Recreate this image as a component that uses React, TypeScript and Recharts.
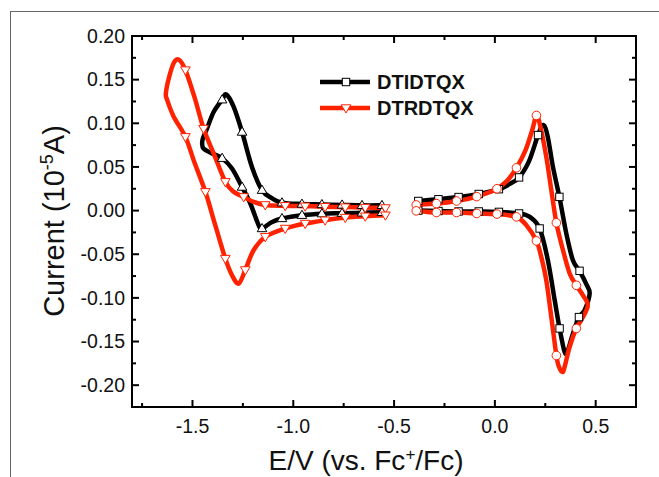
import { ComposedChart, Line, Scatter, XAxis, YAxis, ReferenceArea } from 'recharts'

// cyclic voltammograms, E (V vs Fc+/Fc) against current (10^-5 A)
const dtidtqxReduction: [number, number][] = [
  [-0.56, 0.006], [-0.659, 0.006], [-0.758, 0.0065], [-0.858, 0.007], [-0.957, 0.0075], [-1.056, 0.009],
  [-1.105, 0.014], [-1.155, 0.0234], [-1.205, 0.05], [-1.254, 0.09], [-1.296, 0.119], [-1.332, 0.133],
  [-1.353, 0.127], [-1.395, 0.113], [-1.428, 0.094], [-1.448, 0.083], [-1.452, 0.077], [-1.445, 0.071],
  [-1.403, 0.0655], [-1.353, 0.06], [-1.304, 0.0483], [-1.254, 0.027], [-1.213, 0.0081], [-1.172, -0.0167],
  [-1.155, -0.0205], [-1.105, -0.013], [-1.056, -0.009], [-0.957, -0.0053], [-0.858, -0.0035],
  [-0.758, -0.003], [-0.659, -0.0025], [-0.56, -0.002],
]
const dtidtqxReductionMarks: [number, number][] = [
  [-0.56, 0.006], [-0.659, 0.006], [-0.758, 0.0065], [-0.858, 0.007], [-0.957, 0.0075], [-1.056, 0.009],
  [-1.155, 0.0234], [-1.254, 0.09], [-1.353, 0.127], [-1.353, 0.06], [-1.254, 0.027], [-1.155, -0.0205],
  [-1.056, -0.009], [-0.957, -0.0053], [-0.858, -0.0035], [-0.758, -0.003], [-0.659, -0.0025], [-0.56, -0.002],
]
const dtidtqxOxidation: [number, number][] = [
  [-0.39, 0.011], [-0.28, 0.013], [-0.18, 0.0155], [-0.08, 0.019], [0.02, 0.0245], [0.07, 0.03],
  [0.12, 0.038], [0.17, 0.057], [0.214, 0.0865], [0.24, 0.098], [0.262, 0.085], [0.288, 0.05],
  [0.32, 0.0157], [0.354, -0.026], [0.387, -0.057], [0.42, -0.069], [0.453, -0.084], [0.47, -0.095],
  [0.445, -0.114], [0.417, -0.122], [0.387, -0.141], [0.362, -0.16], [0.346, -0.162], [0.321, -0.135],
  [0.297, -0.103], [0.263, -0.057], [0.222, -0.0205], [0.173, -0.0072], [0.12, -0.0033], [0.02, -0.0015],
  [-0.08, -0.001], [-0.18, -0.001], [-0.28, -0.0005], [-0.39, 0],
]
const dtidtqxOxidationMarks: [number, number][] = [
  [-0.38, 0.011], [-0.28, 0.013], [-0.18, 0.0155], [-0.08, 0.019], [0.02, 0.0245], [0.12, 0.038],
  [0.214, 0.0865], [0.32, 0.0157], [0.42, -0.069], [0.417, -0.122], [0.321, -0.135], [0.222, -0.0205],
  [0.12, -0.0033], [0.02, -0.0015], [-0.08, -0.001], [-0.18, -0.001], [-0.28, -0.0005], [-0.38, 0],
]
const dtrdtqxReduction: [number, number][] = [
  [-0.543, 0.003], [-0.643, 0.0035], [-0.742, 0.004], [-0.842, 0.0045], [-0.941, 0.005], [-1.04, 0.0055],
  [-1.139, 0.0065], [-1.197, 0.01], [-1.246, 0.0157], [-1.296, 0.0215], [-1.337, 0.033], [-1.395, 0.0655],
  [-1.445, 0.094], [-1.49, 0.13], [-1.535, 0.161], [-1.568, 0.173], [-1.593, 0.169], [-1.618, 0.151],
  [-1.632, 0.134], [-1.626, 0.127], [-1.593, 0.1075], [-1.535, 0.0845], [-1.49, 0.055], [-1.436, 0.0215],
  [-1.387, -0.0167], [-1.337, -0.055], [-1.304, -0.074], [-1.271, -0.0836], [-1.238, -0.068],
  [-1.197, -0.0454], [-1.139, -0.03], [-1.04, -0.0205], [-0.941, -0.0148], [-0.842, -0.011],
  [-0.742, -0.008], [-0.643, -0.0065], [-0.543, -0.0053],
]
const dtrdtqxReductionMarks: [number, number][] = [
  [-0.543, 0.003], [-0.643, 0.0035], [-0.742, 0.004], [-0.842, 0.0045], [-0.941, 0.005], [-1.04, 0.0055],
  [-1.139, 0.0065], [-1.246, 0.0157], [-1.337, 0.033], [-1.445, 0.094], [-1.535, 0.161],
  [-1.535, 0.0845], [-1.436, 0.0215], [-1.337, -0.055], [-1.238, -0.068], [-1.139, -0.03], [-1.04, -0.0205],
  [-0.941, -0.0148], [-0.842, -0.011], [-0.742, -0.008], [-0.643, -0.0065], [-0.543, -0.0053],
]
const dtrdtqxOxidation: [number, number][] = [
  [-0.39, 0.0065], [-0.29, 0.008], [-0.19, 0.011], [-0.09, 0.016], [0.01, 0.025], [0.06, 0.034],
  [0.107, 0.049], [0.15, 0.068], [0.185, 0.092], [0.206, 0.109], [0.222, 0.1], [0.255, 0.0616],
  [0.28, 0.0234], [0.305, -0.014], [0.338, -0.0454], [0.371, -0.072], [0.404, -0.0856], [0.437, -0.097],
  [0.461, -0.1085], [0.437, -0.122], [0.404, -0.135], [0.371, -0.156], [0.346, -0.179], [0.335, -0.185],
  [0.318, -0.179], [0.305, -0.166], [0.28, -0.122], [0.255, -0.08], [0.23, -0.053], [0.206, -0.0347],
  [0.156, -0.0167], [0.107, -0.0072], [0.01, -0.004], [-0.09, -0.0033], [-0.19, -0.0022],
  [-0.29, -0.0022], [-0.39, -0.0003],
]
const dtrdtqxOxidationMarks: [number, number][] = [
  [-0.39, 0.0065], [-0.29, 0.008], [-0.19, 0.011], [-0.09, 0.016], [0.01, 0.025], [0.107, 0.049],
  [0.206, 0.109], [0.305, -0.014], [0.404, -0.0856], [0.404, -0.135], [0.305, -0.166], [0.206, -0.0347],
  [0.107, -0.0072], [0.01, -0.004], [-0.09, -0.0033], [-0.19, -0.0022], [-0.29, -0.0022], [-0.39, -0.0003],
]

const xTicks = [-1.5, -1.0, -0.5, 0.0, 0.5]
const xMinorTicks = [-1.75, -1.25, -0.75, -0.25, 0.25]
const yTicks = [0.2, 0.15, 0.1, 0.05, 0.0, -0.05, -0.1, -0.15, -0.2]
const yMinorTicks = [0.175, 0.125, 0.075, 0.025, -0.025, -0.075, -0.125, -0.175]

const BLACK = '#000000'
const RED = '#ff2200'
const FONT = '"Liberation Sans", Arial, sans-serif'
const PLOT = { left: 132, top: 36, right: 636, bottom: 407 }

const pts = (a: [number, number][]) => a.map(([x, y]) => ({ x, y }))

// catmull-rom through the points, so the loops come out rounded like Origin's spline
function smooth(context: any) {
  let p: number[][] = []
  return {
    areaStart() {},
    areaEnd() {},
    lineStart() { p = [] },
    point(x: number, y: number) { p.push([x, y]) },
    lineEnd() {
      if (!p.length) return
      context.moveTo(p[0][0], p[0][1])
      const k = 1 / 6
      for (let i = 0; i < p.length - 1; i++) {
        const a = p[Math.max(i - 1, 0)], b = p[i], c = p[i + 1], d = p[Math.min(i + 2, p.length - 1)]
        context.bezierCurveTo(
          b[0] + (c[0] - a[0]) * k, b[1] + (c[1] - a[1]) * k,
          c[0] - (d[0] - b[0]) * k, c[1] - (d[1] - b[1]) * k,
          c[0], c[1],
        )
      }
    },
  }
}

function XTick({ x, payload }: any) {
  const major = xTicks.includes(payload.value)
  const len = major ? 7 : 4
  return (
    <g>
      <line x1={x} x2={x} y1={PLOT.bottom} y2={PLOT.bottom - len} stroke={BLACK} strokeWidth={2} />
      <line x1={x} x2={x} y1={PLOT.top} y2={PLOT.top + len} stroke={BLACK} strokeWidth={2} />
      {major && (
        <text x={x} y={PLOT.bottom + 19} dy="0.35em" textAnchor="middle" fontSize={19.5} fontFamily={FONT} fill="#111">
          {payload.value.toFixed(1)}
        </text>
      )}
    </g>
  )
}

function YTick({ y, payload }: any) {
  const major = yTicks.includes(payload.value)
  const len = major ? 7 : 4
  return (
    <g>
      <line x1={PLOT.left} x2={PLOT.left + len} y1={y} y2={y} stroke={BLACK} strokeWidth={2} />
      <line x1={PLOT.right - len} x2={PLOT.right} y1={y} y2={y} stroke={BLACK} strokeWidth={2} />
      {major && (
        <text x={PLOT.left - 7} y={y} dy="0.35em" textAnchor="end" fontSize={19.5} fontFamily={FONT} fill="#111">
          {payload.value.toFixed(2)}
        </text>
      )}
    </g>
  )
}

function XTitle() {
  return (
    <text x={366} y={460} dy="0.35em" textAnchor="middle" fontSize={28} fontFamily={FONT} fill="#111">
      <tspan>E/V (vs. Fc</tspan>
      <tspan dy={-10} fontSize={17}>+</tspan>
      <tspan dy={10}>/Fc)</tspan>
    </text>
  )
}

function YTitle() {
  return (
    <text x={0} y={0} dy="0.35em" textAnchor="middle" fontSize={29} fontFamily={FONT} fill="#111"
      transform="translate(54,221) rotate(-90)">
      <tspan>Current (10</tspan>
      <tspan dy={-11} fontSize={18}>-5</tspan>
      <tspan dy={11}>A)</tspan>
    </text>
  )
}

const UpTri = ({ cx, cy, stroke }: any) => (
  <polygon points={`${cx},${cy - 5} ${cx + 4.8},${cy + 3.2} ${cx - 4.8},${cy + 3.2}`} fill="#fff" stroke={stroke} strokeWidth={1} />
)
const DownTri = ({ cx, cy, stroke }: any) => (
  <polygon points={`${cx},${cy + 5} ${cx + 4.8},${cy - 3.2} ${cx - 4.8},${cy - 3.2}`} fill="#fff" stroke={stroke} strokeWidth={1} />
)
const Square = ({ cx, cy, stroke }: any) => (
  <rect x={cx - 3.7} y={cy - 3.7} width={7.4} height={7.4} fill="#fff" stroke={stroke} strokeWidth={1} />
)
const Circle = ({ cx, cy, stroke }: any) => (
  <circle cx={cx} cy={cy} r={4.3} fill="#fff" stroke={stroke} strokeWidth={1} />
)

function LegendBox() {
  return (
    <svg width={180} height={60} style={{ position: 'absolute', left: 312, top: 62 }}>
      <line x1={8} x2={58} y1={20} y2={20} stroke={BLACK} strokeWidth={4.5} />
      <Square cx={34} cy={20} stroke={BLACK} />
      <text x={65} y={20} dy="0.35em" fontSize={20} fontWeight="bold" fontFamily={FONT} fill="#111">DTIDTQX</text>
      <line x1={8} x2={58} y1={46} y2={46} stroke={RED} strokeWidth={4.5} />
      <DownTri cx={34} cy={46} stroke={RED} />
      <text x={65} y={46} dy="0.35em" fontSize={20} fontWeight="bold" fontFamily={FONT} fill="#111">DTRDTQX</text>
    </svg>
  )
}

export default function App() {
  return (
    <div style={{ position: 'absolute', left: 0, top: 0, width: 659, height: 477, background: '#fff', overflow: 'hidden' }}>
      <div style={{ position: 'absolute', left: 10, top: 11, width: 700, height: 520, borderLeft: '1px solid #666', borderTop: '1px solid #666' }} />
      <ComposedChart width={659} height={477} margin={{ top: 36, right: 23, bottom: 0, left: 0 }}>
        <XAxis type="number" dataKey="x" domain={[-1.8, 0.7]} ticks={[...xMinorTicks, ...xTicks]}
          allowDataOverflow height={70} axisLine={false} tickLine={false} tickSize={0} tickMargin={0}
          tick={<XTick />} label={<XTitle />} interval={0} />
        <YAxis type="number" dataKey="y" domain={[-0.225, 0.2]} ticks={[...yMinorTicks, ...yTicks]}
          allowDataOverflow width={132} axisLine={false} tickLine={false} tickSize={0} tickMargin={0}
          tick={<YTick />} label={<YTitle />} interval={0} />
        <ReferenceArea x1={-1.8} x2={0.7} y1={-0.225} y2={0.2} fill="none" stroke={BLACK} strokeWidth={2} />
        <Line data={pts(dtidtqxReduction)} dataKey="y" stroke={BLACK} strokeWidth={4.5} strokeLinejoin="round" dot={false} activeDot={false} isAnimationActive={false} type={smooth as any} />
        <Line data={pts(dtidtqxOxidation)} dataKey="y" stroke={BLACK} strokeWidth={4.5} strokeLinejoin="round" dot={false} activeDot={false} isAnimationActive={false} type={smooth as any} />
        <Scatter data={pts(dtidtqxReductionMarks)} dataKey="y" isAnimationActive={false} shape={(p: any) => <UpTri cx={p.cx} cy={p.cy} stroke={BLACK} />} />
        <Scatter data={pts(dtidtqxOxidationMarks)} dataKey="y" isAnimationActive={false} shape={(p: any) => <Square cx={p.cx} cy={p.cy} stroke={BLACK} />} />
        <Line data={pts(dtrdtqxReduction)} dataKey="y" stroke={RED} strokeWidth={4.5} strokeLinejoin="round" dot={false} activeDot={false} isAnimationActive={false} type={smooth as any} />
        <Line data={pts(dtrdtqxOxidation)} dataKey="y" stroke={RED} strokeWidth={4.5} strokeLinejoin="round" dot={false} activeDot={false} isAnimationActive={false} type={smooth as any} />
        <Scatter data={pts(dtrdtqxReductionMarks)} dataKey="y" isAnimationActive={false} shape={(p: any) => <DownTri cx={p.cx} cy={p.cy} stroke={RED} />} />
        <Scatter data={pts(dtrdtqxOxidationMarks)} dataKey="y" isAnimationActive={false} shape={(p: any) => <Circle cx={p.cx} cy={p.cy} stroke={RED} />} />
      </ComposedChart>
      <LegendBox />
    </div>
  )
}
